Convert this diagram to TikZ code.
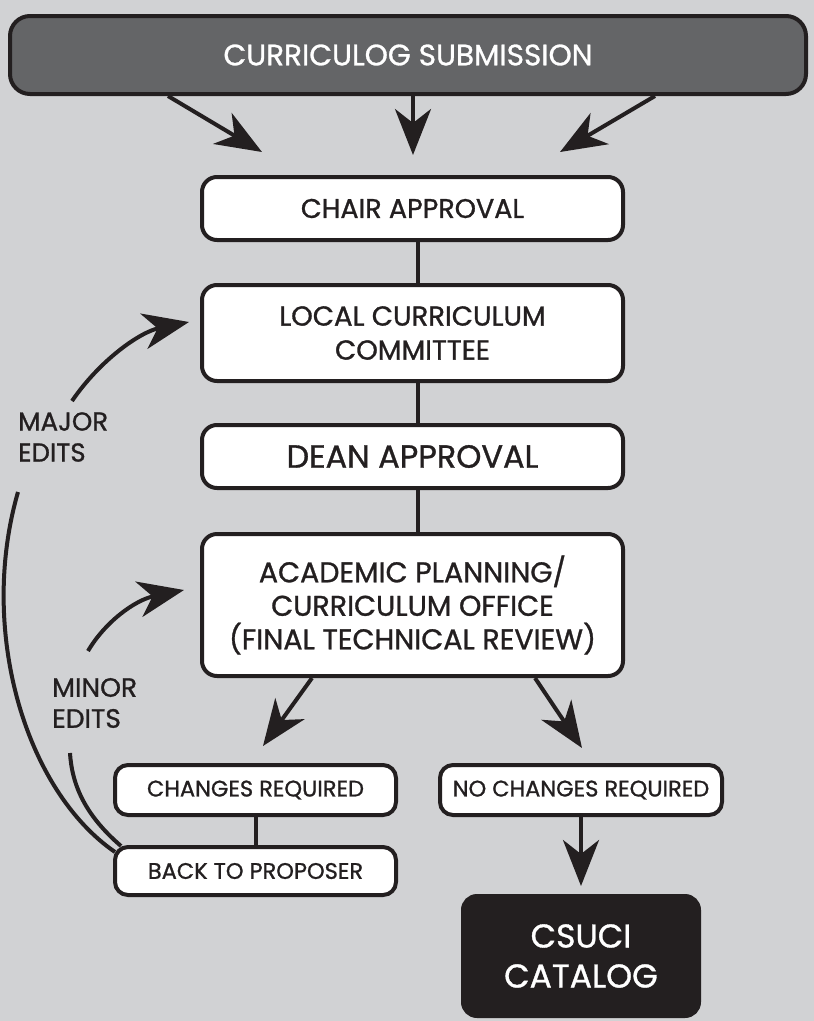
\documentclass[tikz,border=0pt]{standalone}
\usepackage{fontspec}
\setmainfont{Poppins}[FakeBold=1.0]
\usetikzlibrary{arrows.meta}
\definecolor{bg}{HTML}{D1D2D4}
\definecolor{topgray}{HTML}{646567}
\definecolor{ink}{HTML}{231F20}
\tikzset{
  wbox/.style={draw=ink, line width=4pt, rounded corners=15pt, fill=white, text=ink, align=center, inner sep=0pt},
  arr/.style={draw=ink, line width=4pt, -{Stealth[length=46pt,width=36pt,inset=14pt]}},
  ln/.style={draw=ink, line width=4pt},
  lbl/.style={text=ink, align=left, anchor=west, inner sep=0pt},
}
\begin{document}
\begin{tikzpicture}[x=1pt,y=-1pt]
\fill[bg] (0,0) rectangle (814,1021);
\useasboundingbox (0,0) rectangle (814,1021);

\node[wbox, fill=topgray, text=white, minimum width=796pt, minimum height=78pt, rounded corners=20pt, font=\fontsize{29.5}{34}\selectfont] (sub) at (408,55) {CURRICULOG SUBMISSION};

\node[wbox, minimum width=421pt, minimum height=63pt, font=\fontsize{27}{28}\selectfont] (chair) at (412.5,208.5) {CHAIR APPROVAL};
\node[wbox, minimum width=421pt, minimum height=96pt, font=\fontsize{27.5}{34}\selectfont] (lcc) at (412.5,333) {LOCAL CURRICULUM\\COMMITTEE};
\node[wbox, minimum width=421pt, minimum height=63pt, font=\fontsize{32}{30}\selectfont] (dean) at (412.5,456.5) {DEAN APPROVAL};
\node[wbox, minimum width=421pt, minimum height=142pt, font=\fontsize{28.5}{33.5}\selectfont] (ap) at (412.5,605) {ACADEMIC PLANNING/\\CURRICULUM OFFICE\\(FINAL TECHNICAL REVIEW)};

\node[wbox, minimum width=281pt, minimum height=50pt, rounded corners=13pt, font=\fontsize{22.5}{24}\selectfont] (cr) at (255.5,790) {CHANGES REQUIRED};
\node[wbox, minimum width=281pt, minimum height=48pt, rounded corners=13pt, font=\fontsize{22.5}{24}\selectfont] (bp) at (255.5,871) {BACK TO PROPOSER};
\node[wbox, minimum width=282pt, minimum height=50pt, rounded corners=13pt, font=\fontsize{22.5}{24}\selectfont] (ncr) at (581,790) {NO CHANGES REQUIRED};
\node[wbox, fill=ink, text=white, minimum width=236pt, minimum height=120pt, rounded corners=14pt, font=\fontsize{33}{40}\selectfont] (cat) at (581,956) {CSUCI\\CATALOG};

\node[lbl, font=\fontsize{26}{31}\selectfont] (major) at (18,437) {MAJOR\\EDITS};
\node[lbl, font=\fontsize{26.5}{31}\selectfont] (minor) at (52,703) {MINOR\\EDITS};

% top arrows
\coordinate (t1) at (262,152);
\coordinate (t2) at (413,155);
\coordinate (t3) at (560,152);
\draw[arr] (sub.south -| 168,0) -- (t1);
\draw[arr] (sub.south -| 413,0) -- (t2);
\draw[arr] (sub.south -| 655,0) -- (t3);

% vertical connectors
\draw[ln] (chair.south -| 418,0) -- (lcc.north -| 418,0);
\draw[ln] (lcc.south -| 418,0) -- (dean.north -| 418,0);
\draw[ln] (dean.south -| 418,0) -- (ap.north -| 418,0);
\draw[ln] (cr.south) -- (bp.north);

% split arrows
\coordinate (s1) at (263,746);
\coordinate (s2) at (582,748);
\draw[arr] (ap.south -| 312,0) -- (s1);
\draw[arr] (ap.south -| 535,0) -- (s2);
\coordinate (c1) at (581,886);
\draw[arr] (ncr.south) -- (c1);

% major edits loop
\coordinate (mj1) at (18,492);
\coordinate (mj2) at (72,401);
\coordinate (mjt) at (189,322);
\draw[ln] (bp.west |- 0,852) ++(2,0) .. controls (25,790) and (-22,630) .. (mj1);
\draw[arr] (mj2) .. controls (100,360) and (140,332) .. (mjt);

% minor edits loop
\coordinate (mn1) at (70,753);
\coordinate (mn2) at (88,651);
\coordinate (mnt) at (184,590);
\draw[ln] (bp.west |- 0,846) ++(8,0) .. controls (85,815) and (72,785) .. (mn1);
\draw[arr] (mn2) .. controls (105,622) and (135,600) .. (mnt);
\end{tikzpicture}
\end{document}
